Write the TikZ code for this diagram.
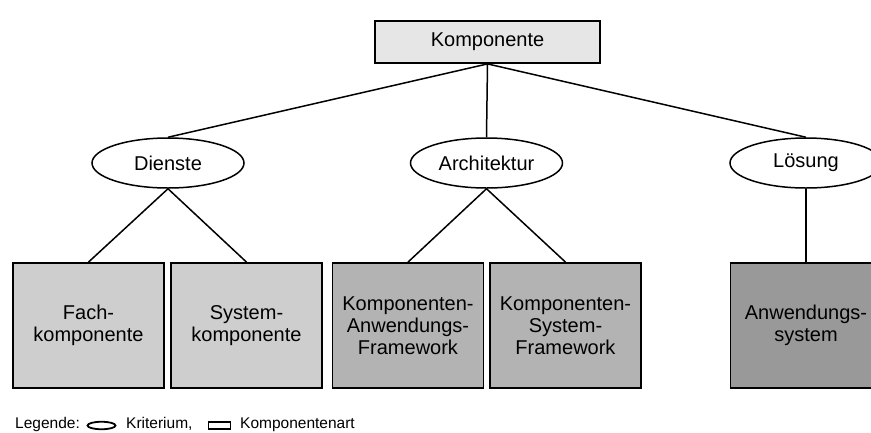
\documentclass[tikz,border=0pt]{standalone}
\usepackage{fontspec}
\setmainfont{Liberation Sans}
\usetikzlibrary{shapes.geometric}
\definecolor{topfill}{HTML}{E6E6E6}
\definecolor{lightfill}{HTML}{CECECE}
\definecolor{midfill}{HTML}{B3B3B3}
\definecolor{darkfill}{HTML}{999999}
\tikzset{
  conn/.style={line width=1.5pt},
  kbox/.style={draw, line width=1.8pt, rectangle, inner sep=0pt, align=center,
    minimum width=151pt, minimum height=125pt, font=\fontsize{20}{22}\selectfont},
  krit/.style={draw, line width=1.5pt, ellipse, inner sep=0pt, fill=white,
    minimum width=152pt, minimum height=50pt, font=\fontsize{20}{22}\selectfont},
  topbox/.style={draw, line width=1.8pt, rectangle, inner sep=0pt, fill=topfill,
    minimum width=225pt, minimum height=42pt, font=\fontsize{20}{22}\selectfont},
  legtext/.style={inner sep=0pt, anchor=base west, font=\fontsize{15.5}{17}\selectfont}
}
\begin{document}
\begin{tikzpicture}[x=1pt,y=-1pt]
\useasboundingbox (0,0) rectangle (871,432);
\clip (0,0) rectangle (871,432);
\node[topbox] (K) at (487.5,42) {Komponente};
\node[krit] (D) at (168,163) {Dienste};
\node[krit] (A) at (486.5,163) {Architektur};
\node[krit] (L) at (806,163) {Lösung};
\node[kbox, fill=lightfill] (F) at (88.5,325.5) {Fach-\\komponente};
\node[kbox, fill=lightfill] (S) at (246.5,325.5) {System-\\komponente};
\node[kbox, fill=midfill] (KA) at (408,325.5) {Komponenten-\\Anwendungs-\\Framework};
\node[kbox, fill=midfill] (KS) at (565.5,325.5) {Komponenten-\\System-\\Framework};
\node[kbox, fill=darkfill] (AS) at (806,325.5) {Anwendungs-\\system};
\draw[conn] (K.south) -- (D.north);
\draw[conn] (K.south) -- (A.north);
\draw[conn] (K.south) -- (L.north);
\draw[conn] (D.south) -- (F.north);
\draw[conn] (D.south) -- (S.north);
\draw[conn] (A.south) -- (KA.north);
\draw[conn] (A.south) -- (KS.north);
\draw[conn] (L.south) -- (AS.north);
\node[legtext] (leg1) at (15,428) {Legende:};
\node[draw, ellipse, line width=1.8pt, inner sep=0pt, minimum width=28pt, minimum height=7.5pt] (legE) at (101.5,425.5) {};
\node[legtext] (leg2) at (126,428) {Kriterium,};
\node[draw, rectangle, line width=1.8pt, inner sep=0pt, minimum width=22pt, minimum height=7pt] (legR) at (219.5,425.5) {};
\node[legtext] (leg3) at (240,428) {Komponentenart};
\end{tikzpicture}
\end{document}
